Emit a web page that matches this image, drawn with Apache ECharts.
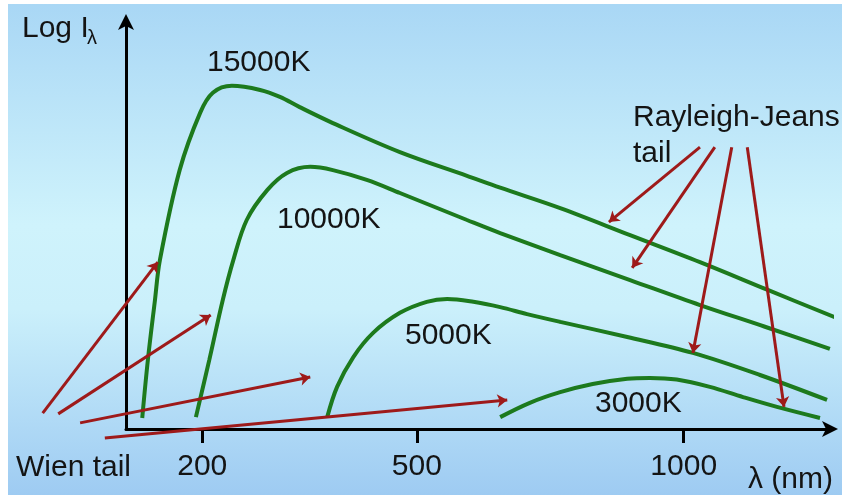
<!DOCTYPE html>
<html>
<head>
<meta charset="utf-8">
<script src="https://cdn.jsdelivr.net/npm/echarts@6/dist/echarts.min.js"></script>
<style>
  html, body { margin: 0; padding: 0; background: #fff; }
  #chart { width: 842px; height: 495px; }
</style>
</head>
<body>
<div id="chart"></div>
<script>
// schematic units: x 0..100 along the wavelength axis, y 0..100 along log intensity
const tickPos = [10.8, 41.2, 79.0]
const tickLabels = ['200', '500', '1000']

const curve15000 = [[2.3, 2.7], [3.1, 16.9], [4.1, 31.5], [4.8, 41.3], [7.6, 63.3], [10.5, 77.3], [12.3, 82.2],
  [15.0, 83.9], [19.0, 82.9], [21.8, 81.2], [24.6, 78.7], [29.3, 74.8], [38.8, 67.7], [48.3, 61.9],
  [53.0, 59.0], [61.5, 54.0], [71.4, 47.4], [81.3, 40.8], [90.9, 34.0], [100.7, 27.1]]
const curve10000 = [[9.9, 2.9], [11.8, 16.9], [13.7, 31.5], [15.2, 41.3], [17.1, 51.1], [20.0, 58.4], [22.8, 62.6],
  [26.1, 64.1], [29.3, 63.3], [34.1, 60.9], [38.8, 57.7], [48.3, 51.1], [53.0, 47.9], [61.5, 42.5],
  [71.4, 36.4], [81.3, 30.3], [90.5, 25.0], [99.7, 19.6]]
const curve5000 = [[28.5, 2.9], [29.9, 10.3], [32.2, 17.6], [35.0, 23.5], [38.8, 28.4], [42.6, 31.1], [45.5, 31.8],
  [49.2, 31.1], [53.0, 29.8], [56.8, 28.1], [61.5, 26.2], [71.0, 22.5], [80.3, 18.6], [89.8, 13.2], [99.3, 7.1]]
const curve3000 = [[53.0, 2.9], [57.2, 6.4], [61.5, 9.0], [66.1, 11.0], [71.0, 12.3], [74.2, 12.5], [78.0, 12.1],
  [82.7, 10.3], [87.4, 7.8], [92.2, 5.4], [98.3, 2.7]]

// annotation arrows: [from, to]
const wienArrows = [
  [[-11.8, 3.9], [4.5, 40.8]],
  [[-9.6, 3.7], [12.0, 27.9]],
  [[-6.5, 1.5], [26.1, 12.7]],
  [[-3.0, -2.2], [54.0, 7.1]]
]
const rjArrows = [
  [[81.3, 68.9], [68.4, 50.6]],
  [[83.4, 68.9], [71.7, 39.4]],
  [[85.8, 68.9], [80.3, 18.6]],
  [[88.0, 68.9], [93.2, 5.4]]
]

const green = '#1d7a1d'
const red = '#9e1a1a'
const font = 'Liberation Sans, Arial, sans-serif'

function curve(name, data) {
  return {
    name: name,
    type: 'line',
    data: data,
    showSymbol: false,
    smooth: 0.35,
    clip: false,
    z: 3,
    lineStyle: { color: green, width: 4 }
  }
}

function label(text, left, y, size) {
  return {
    type: 'text',
    left: left,
    top: y - (size || 30) / 2,
    style: { text: text, fill: '#141414', font: (size || 30) + 'px ' + font }
  }
}

var myChart = echarts.init(document.getElementById('chart'), null, { renderer: 'canvas' })

myChart.setOption({
  backgroundColor: '#fff',
  animation: false,
  grid: { left: 126, right: 10, top: 20, bottom: 66 },
  xAxis: {
    type: 'value',
    min: 0,
    max: 100,
    splitLine: { show: false },
    axisLine: {
      onZero: false, symbol: ['none', 'arrow'], symbolSize: [12, 16], symbolOffset: [0, 6],
      lineStyle: { color: '#000', width: 3 }
    },
    axisTick: { customValues: tickPos, length: 14, lineStyle: { color: '#000', width: 3 } },
    axisLabel: {
      customValues: tickPos,
      margin: 23,
      fontSize: 30,
      fontFamily: font,
      color: '#141414',
      formatter: v => tickLabels[tickPos.indexOf(v)]
    }
  },
  yAxis: {
    type: 'value',
    min: 0,
    max: 100,
    splitLine: { show: false },
    axisTick: { show: false },
    axisLabel: { show: false },
    axisLine: {
      onZero: false, symbol: ['none', 'arrow'], symbolSize: [12, 16], symbolOffset: [0, 6],
      lineStyle: { color: '#000', width: 3 }
    }
  },
  graphic: [
    {
      type: 'rect',
      left: 8, top: 4, z: -10,
      shape: { width: 834, height: 491 },
      style: {
        fill: new echarts.graphic.LinearGradient(0, 0, 0, 1, [
          { offset: 0, color: '#a9d7f5' },
          { offset: 0.45, color: '#cff3fc' },
          { offset: 0.62, color: '#cbf0fb' },
          { offset: 1, color: '#9ecbf2' }
        ])
      }
    },
    label('Log I', 22, 29),
    label('λ', 87, 38, 20),
    label('15000K', 207, 63),
    label('10000K', 277, 220),
    label('5000K', 405, 336),
    label('3000K', 595, 404),
    label('Rayleigh-Jeans', 633, 118),
    label('tail', 633, 154),
    label('Wien tail', 16, 468),
    label('λ (nm)', 748, 480)
  ],
  series: [
    curve('15000K', curve15000),
    curve('10000K', curve10000),
    curve('5000K', curve5000),
    curve('3000K', curve3000),
    {
      name: 'arrows',
      type: 'lines',
      coordinateSystem: 'cartesian2d',
      clip: false,
      z: 5,
      symbol: ['none', 'arrow'],
      symbolSize: 10,
      lineStyle: { color: red, width: 3, opacity: 1 },
      data: wienArrows.concat(rjArrows).map(a => ({ coords: a }))
    }
  ]
})
</script>
</body>
</html>
